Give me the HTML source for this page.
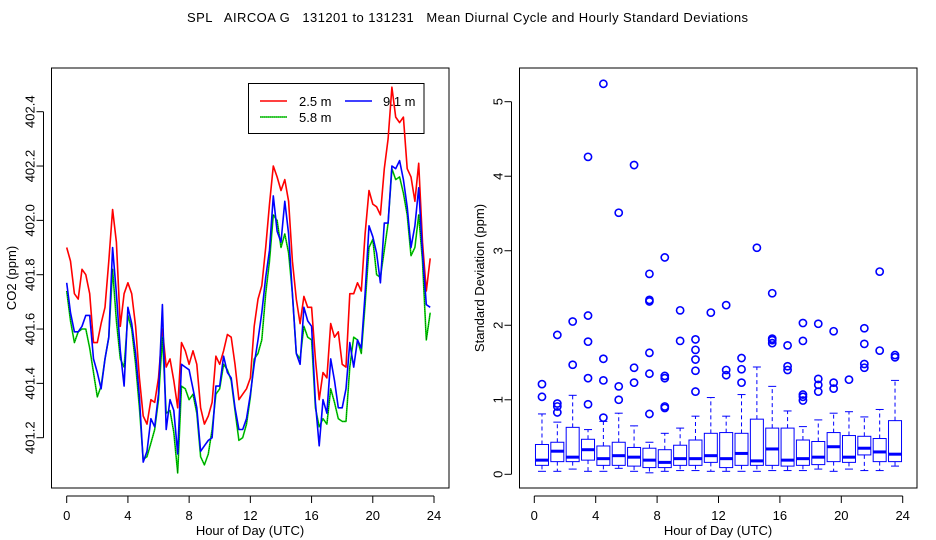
<!DOCTYPE html>
<html><head><meta charset="utf-8"><style>
html,body{margin:0;padding:0;background:#fff;}
svg{display:block;font-family:"Liberation Sans",sans-serif;}
</style></head><body>
<svg id="chart" width="936" height="540" viewBox="0 0 936 540" xmlns="http://www.w3.org/2000/svg">
<rect width="936" height="540" fill="#fff"/>
<text x="187" y="22" font-size="13" textLength="561" lengthAdjust="spacing" xml:space="preserve">SPL   AIRCOA G   131201 to 131231   Mean Diurnal Cycle and Hourly Standard Deviations</text>
<g id="left"></g>
<g id="right"></g>
</svg>
<script>
// ---------- Left panel data (values every 0.25 h) ----------
const hourStep = 0.25;
const co2_25 = [401.90,401.85,401.73,401.71,401.82,401.80,401.73,401.55,401.55,401.62,401.68,401.85,402.04,401.92,401.61,401.73,401.77,401.73,401.61,401.42,401.28,401.25,401.34,401.33,401.42,401.60,401.46,401.49,401.41,401.31,401.55,401.52,401.47,401.52,401.47,401.31,401.25,401.28,401.33,401.50,401.47,401.52,401.58,401.57,401.47,401.34,401.36,401.38,401.42,401.61,401.71,401.76,401.90,402.06,402.20,402.16,402.11,402.15,402.07,401.85,401.71,401.62,401.72,401.68,401.68,401.49,401.34,401.44,401.42,401.62,401.57,401.59,401.47,401.46,401.73,401.73,401.77,401.74,401.95,402.11,402.06,402.05,402.02,402.19,402.30,402.49,402.38,402.36,402.38,402.19,402.16,402.07,402.21,401.92,401.74,401.86];
const co2_91 = [401.77,401.66,401.59,401.59,401.61,401.65,401.65,401.49,401.44,401.38,401.49,401.57,401.90,401.73,401.52,401.39,401.68,401.62,401.51,401.35,401.11,401.15,401.27,401.24,401.36,401.69,401.23,401.34,401.30,401.14,401.47,401.46,401.45,401.38,401.31,401.15,401.17,401.19,401.20,401.39,401.39,401.50,401.44,401.42,401.31,401.23,401.23,401.27,401.36,401.47,401.56,401.66,401.79,401.89,402.09,401.96,401.92,402.07,401.95,401.73,401.51,401.47,401.68,401.63,401.61,401.33,401.17,401.34,401.29,401.49,401.41,401.31,401.31,401.38,401.55,401.46,401.56,401.53,401.73,401.98,401.94,401.88,401.77,401.99,401.99,402.20,402.19,402.22,402.15,402.05,401.90,401.98,402.12,401.88,401.69,401.68];
const co2_58 = [401.74,401.63,401.55,401.59,401.60,401.60,401.53,401.44,401.35,401.39,401.49,401.57,401.82,401.63,401.49,401.46,401.65,401.60,401.47,401.31,401.12,401.13,401.18,401.23,401.34,401.57,401.29,401.30,401.22,401.07,401.39,401.38,401.34,401.36,401.29,401.13,401.10,401.14,401.23,401.36,401.38,401.47,401.45,401.41,401.30,401.19,401.20,401.25,401.35,401.49,401.51,401.56,401.73,401.85,402.02,402.00,401.90,401.95,401.88,401.73,401.51,401.49,401.61,401.57,401.56,401.31,401.24,401.27,401.25,401.38,401.33,401.27,401.26,401.26,401.46,401.57,401.56,401.51,401.69,401.90,401.93,401.80,401.79,401.89,401.99,402.19,402.15,402.16,402.10,402.02,401.87,401.90,402.02,401.85,401.56,401.66];
const xTicks = [0,4,8,12,16,20,24];
const yTicksL = [401.2,401.4,401.6,401.8,402.0,402.2,402.4];
const yTicksR = [0,1,2,3,4,5];
const legendLabels = ["2.5 m","9.1 m","5.8 m"];

// ---------- Right panel data (box stats per hour) ----------
const boxLow = [0.04,0.04,0.07,0.04,0.04,0.08,0.04,0.02,0.04,0.05,0.05,0.04,0.04,0.04,0.04,0.05,0.05,0.05,0.07,0.04,0.07,0.05,0.05,0.11];
const boxQ1  = [0.12,0.17,0.17,0.19,0.12,0.12,0.11,0.09,0.09,0.12,0.12,0.16,0.09,0.12,0.12,0.12,0.11,0.12,0.13,0.17,0.16,0.26,0.17,0.17];
const boxMed = [0.19,0.31,0.23,0.33,0.21,0.25,0.23,0.19,0.16,0.21,0.21,0.25,0.21,0.28,0.18,0.34,0.19,0.21,0.23,0.37,0.23,0.35,0.30,0.27];
const boxQ3  = [0.40,0.43,0.63,0.47,0.38,0.43,0.36,0.35,0.33,0.39,0.46,0.55,0.56,0.55,0.74,0.62,0.62,0.46,0.44,0.56,0.52,0.51,0.48,0.72];
const boxHigh= [0.81,0.70,1.06,0.60,0.71,0.82,0.65,0.43,0.55,0.62,0.78,1.03,0.78,1.07,1.44,1.18,0.85,0.64,0.73,0.82,0.84,0.77,0.87,1.26];
const outliers = [
 [1.04,1.21],[0.83,0.91,0.95,1.87],[1.47,2.05],[0.94,1.29,1.78,2.13,4.26],[0.76,1.26,1.55,5.24],
 [1.0,1.18,3.51],[1.23,1.43,4.15],[0.81,1.35,1.63,2.32,2.34,2.69],[0.89,0.91,1.29,1.32,2.91],[1.79,2.2],
 [1.11,1.39,1.54,1.67,1.81],[2.17],[1.33,1.40,2.27],[1.23,1.41,1.56],[3.04],
 [1.76,1.80,1.82,2.43],[1.40,1.45,1.73],[0.99,1.04,1.07,1.79,2.03],[1.11,1.2,1.28,2.02],[1.15,1.23,1.92],
 [1.27],[1.43,1.48,1.75,1.96],[1.66,2.72],[1.57,1.60]
];

const NS="http://www.w3.org/2000/svg";
function mk(parent,tag,attrs){const e=document.createElementNS(NS,tag);for(const k in attrs)e.setAttribute(k,attrs[k]);parent.appendChild(e);return e;}

// Left axes
const L={x0:51.5,x1:449,y0:68,y1:488};
const lx=h=>66.7+h*(434-66.7)/24;
const ly=v=>111.7+(402.4-v)*(437.7-111.7)/1.2;
const gl=document.getElementById('left');

// legend (drawn first, lines cross over it)
const lg=mk(gl,'g',{});


mk(lg,'rect',{x:248.5,y:83.5,width:175.5,height:50,fill:'none',stroke:'#000','stroke-width':1});
mk(lg,'line',{x1:260,y1:101,x2:287,y2:101,stroke:'#f00','stroke-width':1.5});
const t1=mk(lg,'text',{x:299,y:106,'font-size':13});t1.textContent=legendLabels[0];


mk(lg,'line',{x1:345,y1:101,x2:372,y2:101,stroke:'#00f','stroke-width':1.5});
const t2=mk(lg,'text',{x:383,y:106,'font-size':13});t2.textContent=legendLabels[1];


mk(lg,'line',{x1:260,y1:117,x2:287,y2:117,stroke:'#0d0','stroke-width':1.5});
mk(lg,'line',{x1:260,y1:117,x2:287,y2:117,stroke:'#000','stroke-width':0.6,'stroke-dasharray':'1,1'});
const t3=mk(lg,'text',{x:299,y:122,'font-size':13});t3.textContent=legendLabels[2];



function pts(arr){return arr.map((v,i)=>lx(i*hourStep).toFixed(1)+','+ly(v).toFixed(1)).join(' ');}
let p=mk(gl,'polyline',{points:pts(co2_25),fill:'none',stroke:'#f00','stroke-width':1.6,'stroke-linejoin':'round'});


p=mk(gl,'polyline',{points:pts(co2_58),fill:'none',stroke:'#0d0','stroke-width':1.6,'stroke-linejoin':'round'});


mk(gl,'polyline',{points:pts(co2_58),fill:'none',stroke:'#000','stroke-width':0.5,'stroke-dasharray':'1,1'});
p=mk(gl,'polyline',{points:pts(co2_91),fill:'none',stroke:'#00f','stroke-width':1.6,'stroke-linejoin':'round'});



let fr=mk(gl,'rect',{x:L.x0,y:L.y0,width:L.x1-L.x0,height:L.y1-L.y0,fill:'none',stroke:'#000','stroke-width':1});


mk(gl,'line',{x1:lx(0),y1:L.y1+8,x2:lx(24),y2:L.y1+8,stroke:'#000'});
xTicks.forEach(h=>{
  mk(gl,'line',{x1:lx(h),y1:L.y1+8,x2:lx(h),y2:L.y1+15,stroke:'#000'});
  const t=mk(gl,'text',{x:lx(h),y:L.y1+32,'font-size':13,'text-anchor':'middle'});t.textContent=h;
  
  
});
mk(gl,'line',{x1:L.x0-8,y1:ly(401.2),x2:L.x0-8,y2:ly(402.4),stroke:'#000'});
yTicksL.forEach(v=>{
  mk(gl,'line',{x1:L.x0-8,y1:ly(v),x2:L.x0-15,y2:ly(v),stroke:'#000'});
  const t=mk(gl,'text',{x:0,y:0,'font-size':13,'text-anchor':'middle',transform:`translate(${L.x0-17},${ly(v)}) rotate(-90)`});t.textContent=v.toFixed(1);
  
  
});
let tt=mk(gl,'text',{x:250,y:535,'font-size':13,'text-anchor':'middle'});tt.textContent='Hour of Day (UTC)';


tt=mk(gl,'text',{x:0,y:0,'font-size':13,'text-anchor':'middle',transform:'translate(16,278) rotate(-90)'});tt.textContent='CO2 (ppm)';



// Right panel
const R={x0:519.5,x1:917,y0:68,y1:488};
const rx=h=>534.3+h*(902.7-534.3)/24;
const ry=v=>474.3-v*(474.3-101.7)/5;
const gr=document.getElementById('right');
boxMed.forEach((m,i)=>{
  const g=mk(gr,'g',{});
  
  
  const cx=rx(i+0.5), w=13;
  mk(g,'line',{x1:cx,y1:ry(boxQ3[i]),x2:cx,y2:ry(boxHigh[i]),stroke:'#00f','stroke-dasharray':'4,3'});
  mk(g,'line',{x1:cx,y1:ry(boxQ1[i]),x2:cx,y2:ry(boxLow[i]),stroke:'#00f','stroke-dasharray':'4,3'});
  mk(g,'line',{x1:cx-4,y1:ry(boxHigh[i]),x2:cx+4,y2:ry(boxHigh[i]),stroke:'#00f'});
  mk(g,'line',{x1:cx-4,y1:ry(boxLow[i]),x2:cx+4,y2:ry(boxLow[i]),stroke:'#00f'});
  mk(g,'rect',{x:cx-w/2,y:ry(boxQ3[i]),width:w,height:ry(boxQ1[i])-ry(boxQ3[i]),fill:'none',stroke:'#00f','stroke-width':1});
  mk(g,'line',{x1:cx-w/2,y1:ry(m),x2:cx+w/2,y2:ry(m),stroke:'#00f','stroke-width':3});
  outliers[i].forEach(o=>{
    const c=mk(g,'circle',{cx:cx,cy:ry(o),r:3.6,fill:'none',stroke:'#00f','stroke-width':1.6});
    
    
  });
});
fr=mk(gr,'rect',{x:R.x0,y:R.y0,width:R.x1-R.x0,height:R.y1-R.y0,fill:'none',stroke:'#000','stroke-width':1});


mk(gr,'line',{x1:rx(0),y1:R.y1+8,x2:rx(24),y2:R.y1+8,stroke:'#000'});
xTicks.forEach(h=>{
  mk(gr,'line',{x1:rx(h),y1:R.y1+8,x2:rx(h),y2:R.y1+15,stroke:'#000'});
  const t=mk(gr,'text',{x:rx(h),y:R.y1+32,'font-size':13,'text-anchor':'middle'});t.textContent=h;
  
  
});
mk(gr,'line',{x1:R.x0-8,y1:ry(0),x2:R.x0-8,y2:ry(5),stroke:'#000'});
yTicksR.forEach(v=>{
  mk(gr,'line',{x1:R.x0-8,y1:ry(v),x2:R.x0-15,y2:ry(v),stroke:'#000'});
  const t=mk(gr,'text',{x:0,y:0,'font-size':13,'text-anchor':'middle',transform:`translate(${R.x0-17},${ry(v)}) rotate(-90)`});t.textContent=v;
  
  
});
tt=mk(gr,'text',{x:718,y:535,'font-size':13,'text-anchor':'middle'});tt.textContent='Hour of Day (UTC)';


tt=mk(gr,'text',{x:0,y:0,'font-size':13,'text-anchor':'middle',transform:'translate(484,278) rotate(-90)'});tt.textContent='Standard Deviation (ppm)';


</script>
</body></html>
